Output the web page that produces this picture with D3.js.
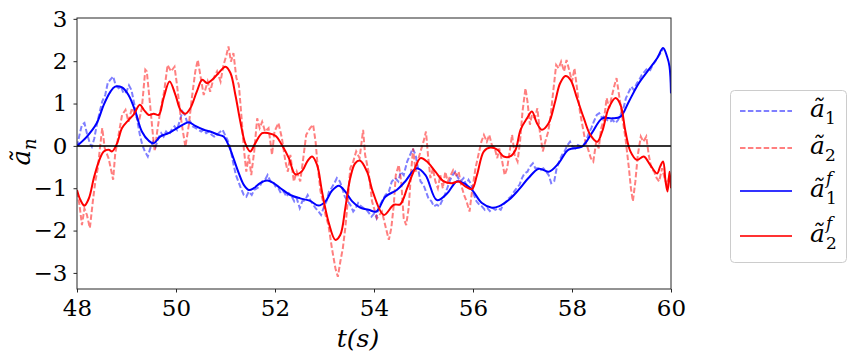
<!DOCTYPE html>
<html>
<head>
<meta charset="utf-8">
<script src="https://cdn.jsdelivr.net/npm/d3@7"></script>
<style>
  body { margin: 0; background: #fff; }
  svg text { font-family: "DejaVu Serif", serif; fill: #000; }
</style>
</head>
<body>
<svg id="chart" width="864" height="360"></svg>
<script>
// raw a1 (dashed blue)
var a1T = [48.0,48.05,48.1,48.15,48.2,48.26,48.3,48.35,48.4,48.46,48.51,48.57,48.62,48.67,48.73,48.78,48.84,48.89,48.94,49.0,49.05,49.1,49.16,49.21,49.27,49.32,49.37,49.43,49.48,49.54,49.59,49.64,49.7,49.75,49.8,49.86,49.91,49.97,50.02,50.07,50.13,50.18,50.24,50.29,50.34,50.4,50.45,50.51,50.56,50.61,50.67,50.72,50.77,50.83,50.88,50.94,50.99,51.04,51.1,51.15,51.21,51.26,51.31,51.37,51.42,51.47,51.53,51.58,51.64,51.69,51.74,51.8,51.85,51.91,51.96,52.01,52.07,52.12,52.18,52.23,52.28,52.34,52.39,52.44,52.5,52.55,52.61,52.66,52.71,52.77,52.82,52.88,52.93,52.98,53.04,53.09,53.14,53.2,53.25,53.31,53.36,53.41,53.47,53.52,53.58,53.63,53.68,53.74,53.79,53.85,53.9,53.95,54.01,54.05,54.09,54.16,54.23,54.3,54.36,54.43,54.49,54.54,54.6,54.67,54.73,54.78,54.84,54.89,54.94,55.0,55.05,55.1,55.16,55.21,55.27,55.32,55.37,55.43,55.48,55.54,55.59,55.64,55.7,55.75,55.81,55.86,55.91,55.97,56.02,56.07,56.13,56.18,56.24,56.29,56.34,56.4,56.45,56.51,56.56,56.61,56.67,56.72,56.77,56.83,56.88,56.94,56.99,57.04,57.1,57.15,57.21,57.26,57.31,57.37,57.42,57.48,57.53,57.58,57.64,57.69,57.74,57.8,57.85,57.91,57.96,58.01,58.07,58.12,58.18,58.23,58.28,58.34,58.39,58.44,58.5,58.55,58.61,58.66,58.71,58.77,58.82,58.88,58.93,58.98,59.04,59.09,59.15,59.2,59.25,59.31,59.36,59.41,59.47,59.52,59.58,59.63,59.68,59.74,59.79,59.84];
var a1V = [-0.02,0.26,0.5,0.54,0.3,0.06,-0.02,0.18,0.5,0.81,1.05,1.2,1.48,1.56,1.64,1.44,1.36,1.4,1.24,1.28,1.43,1.32,0.97,0.65,0.26,0.02,-0.13,-0.25,-0.06,0.1,-0.02,0.18,0.3,0.22,0.34,0.26,0.38,0.46,0.38,0.57,0.81,0.73,0.5,0.57,0.46,0.42,0.38,0.34,0.38,0.3,0.34,0.26,0.22,0.26,0.32,0.38,0.26,0.14,-0.06,-0.37,-0.69,-0.84,-1.0,-1.16,-1.2,-1.08,-1.16,-1.04,-1.0,-0.96,-0.84,-0.8,-0.69,-0.84,-0.84,-0.96,-1.0,-1.12,-1.08,-1.2,-1.12,-1.2,-1.31,-1.24,-1.47,-1.31,-1.28,-1.16,-1.28,-1.39,-1.47,-1.55,-1.63,-1.47,-1.31,-1.08,-1.0,-0.88,-0.76,-0.84,-1.0,-1.2,-1.31,-1.39,-1.55,-1.47,-1.35,-1.43,-1.47,-1.51,-1.59,-1.67,-1.59,-1.7,-1.47,-1.31,-1.16,-1.08,-0.84,-0.76,-0.84,-0.61,-0.69,-0.37,-0.21,-0.06,-0.21,-0.53,-0.84,-0.92,-1.08,-1.24,-1.31,-1.43,-1.39,-1.43,-1.31,-1.16,-1.0,-0.8,-0.69,-0.61,-0.76,-0.84,-0.76,-0.92,-0.8,-0.92,-1.16,-1.31,-1.39,-1.43,-1.51,-1.47,-1.54,-1.47,-1.51,-1.47,-1.51,-1.39,-1.31,-1.24,-1.2,-1.08,-1.0,-0.92,-0.76,-0.65,-0.61,-0.49,-0.41,-0.53,-0.53,-0.57,-0.53,-0.61,-0.69,-0.88,-0.84,-0.53,-0.37,-0.21,-0.13,0.02,0.1,-0.02,-0.06,0.02,-0.02,0.02,0.1,0.3,0.42,0.57,0.73,0.77,0.65,0.73,0.61,0.57,0.61,0.54,0.61,0.73,0.89,1.13,1.28,1.4,1.32,1.48,1.56,1.68,1.76,1.83,1.79,1.91,1.99,2.11,2.19,2.3];

// raw a2 (dashed red)
var a2T = [48.0,48.05,48.1,48.15,48.2,48.26,48.32,48.37,48.42,48.47,48.51,48.56,48.64,48.73,48.77,48.84,48.91,48.98,49.04,49.11,49.18,49.25,49.31,49.38,49.41,49.47,49.54,49.57,49.62,49.68,49.76,49.83,49.9,49.97,50.02,50.09,50.14,50.19,50.26,50.32,50.39,50.44,50.49,50.56,50.64,50.69,50.76,50.83,50.9,50.96,51.02,51.06,51.11,51.16,51.22,51.27,51.32,51.37,51.42,51.47,51.52,51.58,51.64,51.69,51.74,51.8,51.87,51.94,51.99,52.07,52.14,52.21,52.26,52.31,52.38,52.44,52.51,52.58,52.63,52.71,52.77,52.82,52.86,52.92,52.97,53.02,53.08,53.15,53.22,53.27,53.32,53.37,53.42,53.47,53.52,53.58,53.64,53.71,53.78,53.82,53.89,53.96,54.06,54.16,54.24,54.3,54.35,54.4,54.44,54.5,54.55,54.6,54.65,54.7,54.75,54.79,54.84,54.88,54.94,55.0,55.05,55.09,55.14,55.19,55.24,55.29,55.34,55.39,55.44,55.49,55.55,55.6,55.66,55.71,55.76,55.82,55.87,55.93,55.98,56.05,56.11,56.17,56.22,56.28,56.33,56.38,56.44,56.49,56.53,56.59,56.64,56.69,56.75,56.79,56.84,56.9,56.95,57.0,57.06,57.1,57.15,57.19,57.25,57.3,57.35,57.41,57.46,57.52,57.57,57.62,57.68,57.73,57.78,57.84,57.89,57.95,58.0,58.05,58.11,58.16,58.22,58.27,58.32,58.38,58.43,58.49,58.54,58.59,58.65,58.7,58.75,58.81,58.86,58.9,58.96,59.01,59.08,59.15,59.19,59.23,59.28,59.33,59.39,59.44,59.5,59.55,59.6,59.66,59.71,59.76,59.82,59.87,59.92,59.97,60.0];
var a2V = [-1.08,-1.39,-1.87,-1.48,-1.63,-1.94,-1.31,-0.84,-0.53,0.02,0.42,-0.05,-0.3,-0.8,-0.21,0.26,0.73,0.85,0.57,0.89,0.73,0.57,0.89,1.8,1.76,1.05,0.18,-0.13,0.34,0.81,1.28,1.91,1.76,1.87,1.44,0.73,0.34,-0.02,0.5,1.13,1.76,2.03,1.68,1.2,1.52,1.28,1.6,1.76,1.52,1.91,2.15,2.35,1.99,2.19,1.6,1.44,0.73,-0.06,-0.61,-0.21,-0.69,-0.13,0.65,0.42,0.57,0.34,0.42,-0.21,0.34,0.54,0.18,-0.37,-0.61,-0.21,-0.84,-0.61,-0.84,-0.21,0.26,0.42,0.5,0.1,-0.45,-1.08,-1.31,-1.63,-1.87,-2.42,-2.89,-3.09,-2.73,-2.42,-1.94,-1.31,-0.53,-0.37,-0.13,-0.29,0.38,-0.21,-0.61,-1.31,-1.71,-1.55,-1.94,-2.22,-1.94,-1.39,-0.69,-0.45,-0.84,-1.71,-1.87,-1.47,-0.61,-0.06,-0.61,-0.37,-0.13,0.1,0.34,-0.21,-0.76,-0.53,-0.84,-1.0,-0.69,-1.0,-0.61,-0.84,-0.69,-0.57,-0.69,-0.61,-0.92,-1.16,-1.31,-1.55,-1.08,-0.53,-0.21,0.1,0.26,0.1,0.26,0.02,-0.06,-0.29,-0.06,-0.37,-0.69,-0.53,-0.06,0.26,-0.21,-0.37,0.1,0.81,1.36,1.05,0.5,0.73,0.65,0.89,0.34,-0.13,0.1,0.34,0.73,1.28,1.91,1.83,1.99,1.76,2.03,1.76,1.52,1.83,1.28,0.81,0.42,0.1,-0.06,-0.29,-0.37,0.1,-0.06,0.42,0.65,1.13,0.89,1.2,1.44,1.6,1.13,0.73,0.18,-0.53,-1.0,-1.31,-0.84,-0.21,0.22,0.1,0.22,-0.21,-0.53,-0.61,-0.76,-0.84,-0.53,-0.76,-0.92,-0.69,-0.84];

// filtered a1 (solid blue)
var a1fT = [48.0,48.2,48.4,48.54,48.67,48.77,48.91,49.04,49.18,49.31,49.45,49.55,49.68,49.85,50.02,50.15,50.26,50.39,50.56,50.69,50.86,50.96,51.06,51.16,51.27,51.37,51.47,51.57,51.7,51.84,51.97,52.11,52.31,52.51,52.71,52.88,53.02,53.15,53.29,53.42,53.56,53.72,53.89,54.05,54.23,54.46,54.63,54.86,55.04,55.27,55.48,55.67,55.81,55.98,56.18,56.38,56.52,56.72,56.92,57.12,57.33,57.53,57.73,57.93,58.2,58.4,58.61,58.81,58.98,59.15,59.35,59.55,59.72,59.84,59.92,59.97,60.0];
var a1fV = [0.0,0.22,0.54,0.97,1.27,1.4,1.38,1.2,0.81,0.34,0.12,0.06,0.22,0.3,0.42,0.51,0.56,0.47,0.38,0.34,0.26,0.22,0.02,-0.29,-0.65,-0.92,-1.04,-1.0,-0.88,-0.82,-0.88,-1.0,-1.16,-1.24,-1.3,-1.41,-1.31,-1.06,-0.94,-1.08,-1.31,-1.46,-1.51,-1.55,-1.2,-1.04,-0.84,-0.53,-0.69,-1.28,-1.12,-0.84,-0.88,-1.04,-1.35,-1.46,-1.43,-1.28,-1.04,-0.76,-0.54,-0.61,-0.41,-0.09,-0.02,0.3,0.65,0.65,0.69,1.05,1.48,1.8,2.07,2.31,2.11,1.87,1.24];

// filtered a2 (solid red)
var a2fT = [48.0,48.07,48.15,48.24,48.34,48.44,48.54,48.64,48.71,48.81,48.91,49.04,49.14,49.27,49.35,49.45,49.55,49.65,49.75,49.87,49.99,50.09,50.19,50.29,50.42,50.53,50.63,50.73,50.86,51.0,51.1,51.2,51.3,51.4,51.5,51.6,51.74,51.87,52.01,52.14,52.28,52.41,52.55,52.65,52.75,52.85,52.95,53.08,53.22,53.32,53.42,53.52,53.62,53.72,53.86,53.98,54.2,54.4,54.53,54.67,54.8,54.94,55.07,55.24,55.41,55.58,55.71,55.85,55.98,56.08,56.22,56.35,56.49,56.62,56.75,56.86,56.96,57.09,57.19,57.29,57.39,57.53,57.66,57.76,57.87,57.97,58.1,58.24,58.37,58.51,58.61,58.74,58.88,58.98,59.08,59.18,59.31,59.45,59.58,59.72,59.78,59.84,59.89,59.93,59.97,60.0];
var a2fV = [-1.04,-1.28,-1.41,-1.24,-0.76,-0.37,-0.13,-0.09,-0.13,0.06,0.42,0.61,0.73,0.97,0.85,0.73,0.76,0.73,1.13,1.52,1.2,0.85,0.76,0.89,1.28,1.56,1.48,1.56,1.72,1.87,1.72,1.2,0.57,0.06,-0.13,0.06,0.3,0.3,0.24,0.02,-0.29,-0.67,-0.59,-0.37,-0.25,-0.45,-1.08,-1.79,-2.22,-2.1,-1.47,-0.76,-0.41,-0.35,-0.61,-1.1,-1.63,-1.39,-1.38,-1.0,-0.61,-0.29,-0.37,-0.61,-0.84,-0.88,-0.84,-0.96,-1.02,-0.69,-0.13,-0.04,-0.09,-0.25,-0.25,-0.09,0.38,0.65,0.81,0.54,0.38,0.54,1.05,1.48,1.65,1.56,1.13,0.65,0.26,0.1,0.34,0.89,1.13,0.97,0.34,-0.13,-0.33,-0.25,-0.45,-0.65,-0.49,-0.37,-0.84,-1.08,-0.61,-1.0];

var xTicks = [48, 50, 52, 54, 56, 58, 60];
var yTicks = [-3, -2, -1, 0, 1, 2, 3];

var svg = d3.select("#chart");
var mLeft = 77, mRight = 671, mTop = 18, mBottom = 289;

var x = d3.scaleLinear().domain([48, 60]).range([mLeft, mRight]);
var y = d3.scaleLinear().domain([-3.38, 3.02]).range([mBottom, mTop]);

svg.append("defs").append("clipPath").attr("id", "clip")
  .append("rect").attr("x", mLeft).attr("y", mTop)
  .attr("width", mRight - mLeft).attr("height", mBottom - mTop);

function series(ts, vs) {
  var n = Math.min(ts.length, vs.length);
  return ts.slice(0, n).map(function(t, i) { return [t, vs[i]]; });
}

var rawLine = d3.line().x(function(d) { return x(d[0]); }).y(function(d) { return y(d[1]); });
var smoothLine = d3.line().curve(d3.curveCatmullRom)
  .x(function(d) { return x(d[0]); }).y(function(d) { return y(d[1]); });

var plot = svg.append("g").attr("clip-path", "url(#clip)");

plot.append("path").attr("d", rawLine(series(a1T, a1V)))
  .style("fill", "none").style("stroke", "#0000ff").style("stroke-opacity", 0.5)
  .style("stroke-width", 2).style("stroke-dasharray", "5.5,2.4");
plot.append("path").attr("d", rawLine(series(a2T, a2V)))
  .style("fill", "none").style("stroke", "#ff0000").style("stroke-opacity", 0.5)
  .style("stroke-width", 2).style("stroke-dasharray", "5.5,2.4");
plot.append("path").attr("d", smoothLine(series(a1fT, a1fV)))
  .style("fill", "none").style("stroke", "#0000ff").style("stroke-width", 2);
plot.append("path").attr("d", smoothLine(series(a2fT, a2fV)))
  .style("fill", "none").style("stroke", "#ff0000").style("stroke-width", 2);

// zero line
plot.append("line").attr("x1", mLeft).attr("x2", mRight)
  .attr("y1", y(0)).attr("y2", y(0))
  .style("stroke", "#000").style("stroke-opacity", 0.8).style("stroke-width", 2);

// axes
var xAxis = svg.append("g").attr("transform", "translate(0," + mBottom + ")")
  .call(d3.axisBottom(x).tickValues(xTicks).tickSize(3.5).tickPadding(4).tickFormat(d3.format("d")));
var yAxis = svg.append("g").attr("transform", "translate(" + mLeft + ",0)")
  .call(d3.axisLeft(y).tickValues(yTicks).tickSize(3.5).tickPadding(6)
    .tickFormat(function(d) { return d < 0 ? "\u2212" + Math.abs(d) : d; }));
[xAxis, yAxis].forEach(function(a) {
  a.attr("font-family", null).attr("font-size", null);
  a.select(".domain").remove();
  a.selectAll("line").style("stroke", "#262626").style("stroke-width", 1);
  a.selectAll("text").style("font-size", "23px").style("fill", "#000");
});
xAxis.selectAll("text").attr("dy", "0.85em");

svg.append("rect").attr("x", mLeft).attr("y", mTop)
  .attr("width", mRight - mLeft).attr("height", mBottom - mTop)
  .style("fill", "none").style("stroke", "#262626").style("stroke-width", 1);

// axis labels
svg.append("text").attr("x", 358).attr("y", 347).attr("text-anchor", "middle")
  .style("font-size", "25px").style("font-style", "italic").text("t(s)");

var yl = svg.append("text").attr("transform", "translate(30,152) rotate(-90)")
  .attr("text-anchor", "middle").style("font-size", "26px").style("font-style", "italic");
yl.append("tspan").text("a\u0303");
yl.append("tspan").attr("dy", 6).style("font-size", "18px").text("n");

// legend
var legItems = [
  {sub: "1", sup: "", color: "#0000ff", dash: true, y: 111},
  {sub: "2", sup: "", color: "#ff0000", dash: true, y: 148},
  {sub: "1", sup: "f", color: "#0000ff", dash: false, y: 191},
  {sub: "2", sup: "f", color: "#ff0000", dash: false, y: 236}
];
var leg = svg.append("g");
leg.append("rect").attr("x", 730.5).attr("y", 90.5).attr("width", 116).attr("height", 172)
  .attr("rx", 4).style("fill", "#fff").style("fill-opacity", 0.8)
  .style("stroke", "#cccccc").style("stroke-width", 1);
legItems.forEach(function(d) {
  leg.append("line").attr("x1", 740).attr("x2", 792).attr("y1", d.y).attr("y2", d.y)
    .style("stroke", d.color).style("stroke-width", 2)
    .style("stroke-opacity", d.dash ? 0.5 : 0.8)
    .style("stroke-dasharray", d.dash ? "5.5,2.4" : null);
  var t = leg.append("text").attr("x", 810).attr("y", d.y + 6).style("font-size", "25px").style("font-style", "italic");
  t.append("tspan").text("a\u0303");
  if (d.sup) {
    t.append("tspan").attr("x", 826).attr("dy", -13).style("font-size", "17px").text(d.sup);
    t.append("tspan").attr("x", 826).attr("dy", 20).style("font-size", "17px").style("font-style", "normal").text(d.sub);
  } else {
    t.append("tspan").attr("dy", 7).style("font-size", "17px").style("font-style", "normal").text(d.sub);
  }
});
</script>
</body>
</html>
